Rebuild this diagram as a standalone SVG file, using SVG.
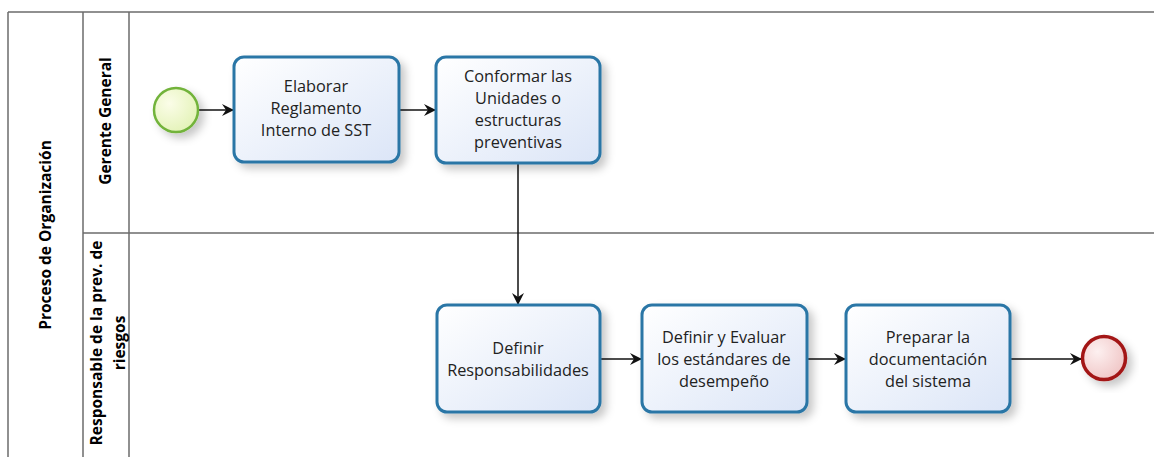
<svg xmlns="http://www.w3.org/2000/svg" width="1154" height="457" viewBox="0 0 1154 457">
<style>
.lane{stroke:#6b6b6b;stroke-width:1.5;fill:none}
.task{fill:url(#tg);stroke:#2a76a6;stroke-width:3;filter:url(#sh)}
.tt{font-family:"Open Sans","DejaVu Sans",sans-serif;font-size:16.3px;fill:#222;text-anchor:middle}
.hd{font-family:"Open Sans","DejaVu Sans",sans-serif;font-size:15.5px;font-weight:bold;fill:#000;text-anchor:middle}
.flow{stroke:#111;stroke-width:1.5;fill:none;marker-end:url(#ah)}
</style>
<defs>
<linearGradient id="tg" x1="0" y1="0" x2="1" y2="1">
<stop offset="0" stop-color="#ffffff"/><stop offset="1" stop-color="#dbe5f7"/>
</linearGradient>
<radialGradient id="sg" cx="0.35" cy="0.35" r="0.75">
<stop offset="0" stop-color="#fbfde8"/><stop offset="1" stop-color="#e2f2b5"/>
</radialGradient>
<radialGradient id="eg" cx="0.35" cy="0.35" r="0.75">
<stop offset="0" stop-color="#fdf0f0"/><stop offset="1" stop-color="#efc3c3"/>
</radialGradient>
<filter id="sh" x="-20%" y="-20%" width="150%" height="150%">
<feDropShadow dx="5" dy="5" stdDeviation="4" flood-color="#000" flood-opacity="0.22"/>
</filter>
<marker id="ah" viewBox="0 0 12 12" refX="11" refY="6" markerWidth="12" markerHeight="12" markerUnits="userSpaceOnUse" orient="auto">
<path d="M0,0 L12,6 L0,12 L4,6 Z" fill="#111"/>
</marker>
</defs>
<g id="pool">
<line class="lane" x1="8" y1="12" x2="1154" y2="12"/>
<line class="lane" x1="8" y1="12" x2="8" y2="457"/>
<line class="lane" x1="83" y1="12" x2="83" y2="457"/>
<line class="lane" x1="129" y1="12" x2="129" y2="457"/>
<line class="lane" x1="83" y1="233" x2="1154" y2="233"/>
<text class="hd" transform="translate(51,235) rotate(-90)">Proceso de Organización</text>
</g>
<g id="lane-gerente">
<text class="hd" transform="translate(111,121) rotate(-90)">Gerente General</text>
</g>
<g id="lane-responsable">
<text class="hd" transform="translate(102,343) rotate(-90)">Responsable de la prev.  de</text>
<text class="hd" transform="translate(125,343) rotate(-90)">riesgos</text>
</g>
<g id="connectors">
<line class="flow" x1="199" y1="110" x2="233" y2="110"/>
<line class="flow" x1="399" y1="110" x2="435" y2="110"/>
<line class="flow" x1="518" y1="163" x2="518" y2="304"/>
<line class="flow" x1="600" y1="359" x2="641" y2="359"/>
<line class="flow" x1="807" y1="359" x2="845" y2="359"/>
<line class="flow" x1="1010" y1="359" x2="1081" y2="359"/>
</g>
<g id="start">
<circle cx="176" cy="110" r="22" fill="url(#sg)" stroke="#72b33b" stroke-width="2.5" filter="url(#sh)"/>
</g>
<g id="task1">
<rect class="task" x="234" y="57" width="165" height="105" rx="10"/>
<text class="tt" x="316" y="92">Elaborar</text>
<text class="tt" x="316" y="114">Reglamento</text>
<text class="tt" x="316" y="136">Interno de SST</text>
</g>
<g id="task2">
<rect class="task" x="436" y="57" width="164" height="106" rx="10"/>
<text class="tt" x="518" y="82">Conformar las</text>
<text class="tt" x="518" y="104">Unidades o</text>
<text class="tt" x="518" y="126">estructuras</text>
<text class="tt" x="518" y="148">preventivas</text>
</g>
<g id="task3">
<rect class="task" x="437" y="305" width="163" height="107" rx="10"/>
<text class="tt" x="518" y="354">Definir</text>
<text class="tt" x="518" y="376">Responsabilidades</text>
</g>
<g id="task4">
<rect class="task" x="642" y="305" width="165" height="107" rx="10"/>
<text class="tt" x="724" y="343">Definir y Evaluar</text>
<text class="tt" x="724" y="365">los estándares de</text>
<text class="tt" x="724" y="387">desempeño</text>
</g>
<g id="task5">
<rect class="task" x="846" y="305" width="164" height="107" rx="10"/>
<text class="tt" x="928" y="343">Preparar la</text>
<text class="tt" x="928" y="365">documentación</text>
<text class="tt" x="928" y="387">del sistema</text>
</g>
<g id="end">
<circle cx="1104" cy="358" r="21.5" fill="url(#eg)" stroke="#a31818" stroke-width="3.5" filter="url(#sh)"/>
</g>
</svg>
